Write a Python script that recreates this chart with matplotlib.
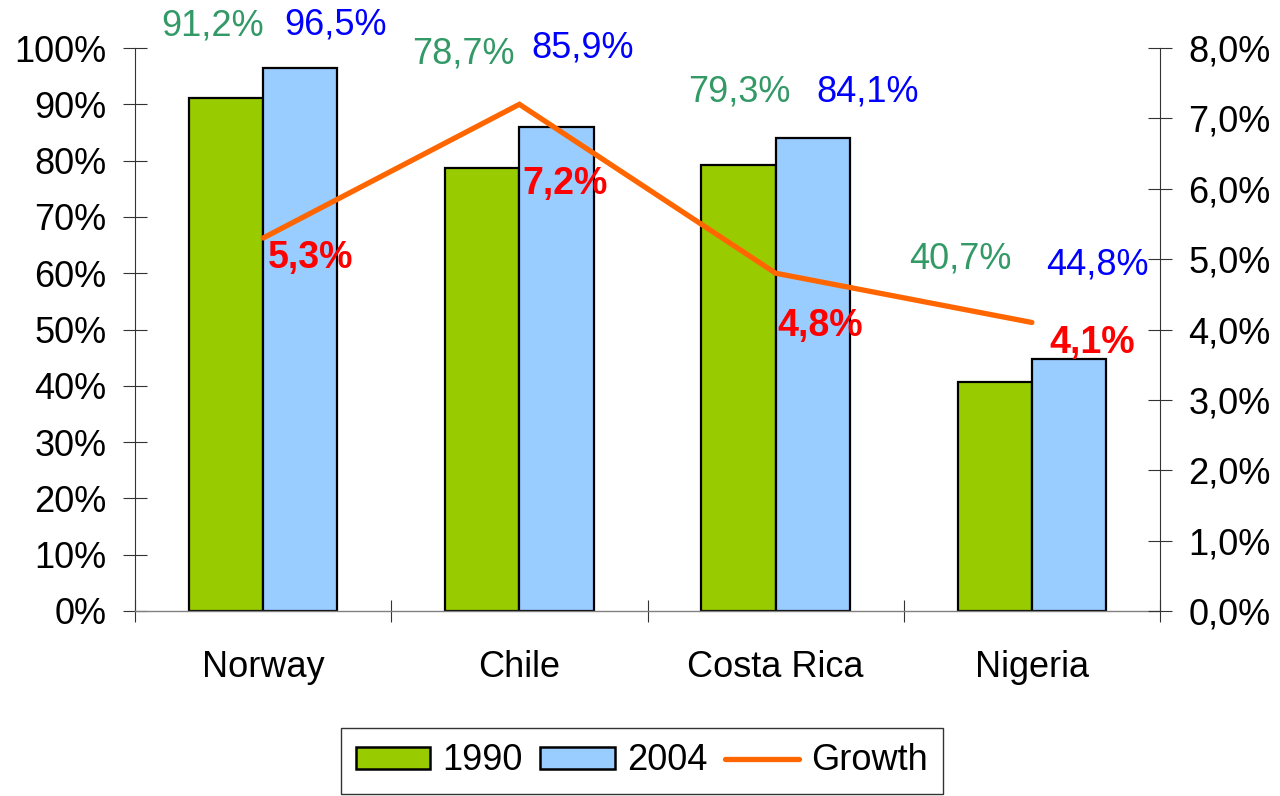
import matplotlib
matplotlib.use('Agg')
import matplotlib.pyplot as plt
from matplotlib.patches import Patch
from matplotlib.lines import Line2D

plt.rcParams['font.family'] = ['Liberation Sans', 'DejaVu Sans']
plt.rcParams['font.size'] = 26

countries = ["Norway", "Chile", "Costa Rica", "Nigeria"]
share_1990 = [91.2, 78.7, 79.3, 40.7]
share_2004 = [96.5, 85.9, 84.1, 44.8]
growth = [5.3, 7.2, 4.8, 4.1]

left_ticks = [0, 10, 20, 30, 40, 50, 60, 70, 80, 90, 100]
right_ticks = [0, 1, 2, 3, 4, 5, 6, 7, 8]

# label offsets from the bar top / line point, in pixels
off_1990 = [(-13, 72), (-19, 114), (1, 73), (-34, 123)]
off_2004 = [(35, 43), (26, 79), (55, 46), (28, 94)]
off_growth = [(5, -20), (3, -80), (2, -53), (18, -21)]

C_1990 = "#99CC00"
C_2004 = "#99CCFF"
C_LINE = "#FF6600"


def fmt(v, dec):
    return ("{0:.%df}%%" % dec).format(v).replace(".", ",")


def px(p):
    return p * 72.0 / 100.0


fig = plt.figure(figsize=(12.8, 7.96), dpi=100)
ax = fig.add_axes([135 / 1280, 1 - 611 / 796, 1025 / 1280, 563 / 796])
ax2 = ax.twinx()

w = 0.29
xs = list(range(len(countries)))
ax.bar([x - w / 2 for x in xs], share_1990, w, color=C_1990, edgecolor="black", linewidth=1.6, zorder=2)
ax.bar([x + w / 2 for x in xs], share_2004, w, color=C_2004, edgecolor="black", linewidth=1.6, zorder=2)
ax2.plot(xs, growth, color=C_LINE, linewidth=3.8, solid_capstyle="round", solid_joinstyle="miter", zorder=3)

for i, x in enumerate(xs):
    ax.annotate(fmt(share_1990[i], 1), (x - w / 2, share_1990[i]), xytext=(px(off_1990[i][0]), px(off_1990[i][1])),
                textcoords="offset points", ha="center", va="center", color="#339966", annotation_clip=False)
    ax.annotate(fmt(share_2004[i], 1), (x + w / 2, share_2004[i]), xytext=(px(off_2004[i][0]), px(off_2004[i][1])),
                textcoords="offset points", ha="center", va="center", color="#0000FF", annotation_clip=False)
    ax2.annotate(fmt(growth[i], 1), (x, growth[i]), xytext=(px(off_growth[i][0]), px(off_growth[i][1])),
                 textcoords="offset points", ha="left", va="center", color="#FF0000", fontweight="bold",
                 fontsize=27, zorder=5, annotation_clip=False)

ax.set_xlim(-0.5, 3.5)
ax.set_ylim(0, 100)
ax2.set_ylim(0, 8)

ax.set_yticks(left_ticks)
ax.set_yticklabels(["%d%%" % t for t in left_ticks])
ax2.set_yticks(right_ticks)
ax2.set_yticklabels([fmt(t, 1) for t in right_ticks])

ax.set_xticks(xs)
ax.set_xticklabels(countries)
ax.set_xticks([x - 0.5 for x in range(len(countries) + 1)], minor=True)
ax.tick_params(axis="x", which="major", length=0, pad=28)
ax.tick_params(axis="x", which="minor", direction="inout", length=16, width=0.8, color="#333333")
ax.tick_params(axis="y", direction="inout", length=17, width=0.8, color="#333333", pad=12)
ax2.tick_params(axis="y", direction="inout", length=17, width=0.8, color="#333333", pad=12)

for a in (ax, ax2):
    a.spines["top"].set_visible(False)
    a.set_facecolor("none")
ax.spines["right"].set_visible(False)
ax.spines["left"].set_color("#333333")
ax.spines["left"].set_linewidth(0.8)
ax.spines["bottom"].set_color("#808080")
ax.spines["bottom"].set_linewidth(1.0)
ax2.spines["left"].set_visible(False)
ax2.spines["bottom"].set_visible(False)
ax2.spines["right"].set_color("#333333")
ax2.spines["right"].set_linewidth(0.8)

handles = [Patch(facecolor=C_1990, edgecolor="black", linewidth=1.8),
           Patch(facecolor=C_2004, edgecolor="black", linewidth=1.8),
           Line2D([0], [0], color=C_LINE, linewidth=3.8, solid_capstyle="round")]
leg = fig.legend(handles, ["1990", "2004", "Growth"], loc="center", bbox_to_anchor=(642 / 1280, 1 - 761 / 796),
                 ncol=3, frameon=True, fancybox=False, shadow=False, handlelength=2.05, handleheight=0.58,
                 handletextpad=0.34, columnspacing=0.5, borderpad=0.42, fontsize=26)
leg.get_frame().set_edgecolor("black")
leg.get_frame().set_linewidth(1.0)

fig.savefig("out.png", dpi=100)
